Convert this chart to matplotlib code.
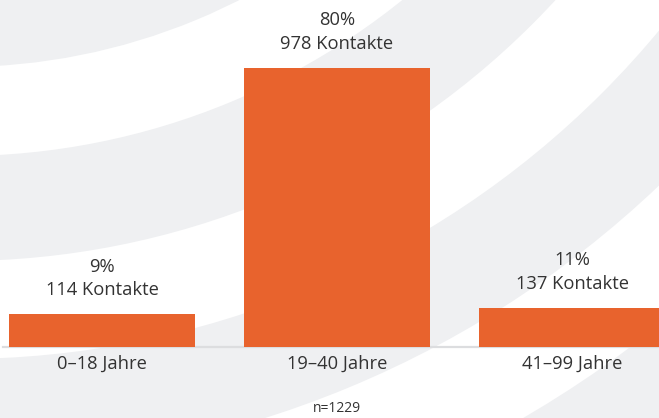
import matplotlib
matplotlib.use('Agg')
import matplotlib.pyplot as plt
from matplotlib.patches import Wedge

# ── Data ──────────────────────────────────────────────────────────────────────
categories = ["0–18 Jahre", "19–40 Jahre", "41–99 Jahre"]
contacts   = [114, 978, 137]
percents   = [9, 80, 11]
n_total    = 1229

# ── Style ─────────────────────────────────────────────────────────────────────
BAR   = "#E8632D"
BAND  = "#EFF0F2"
TEXT  = "#333333"
AXIS  = "#DCDDDF"
FONT  = "Open Sans"
FS    = 13.2

W, H = 659, 418
fig = plt.figure(figsize=(W / 100, H / 100), dpi=100)
fig.patch.set_facecolor("white")

# background arcs (pixel space)
bg = fig.add_axes([0, 0, 1, 1])
bg.set_xlim(0, W)
bg.set_ylim(H, 0)
bg.axis("off")
center = (-40, -549)
for r_in, r_out in [(480, 616), (705, 810), (908, 1014), (1119, 1300)]:
    bg.add_patch(Wedge(center, r_out, 0, 360, width=r_out - r_in,
                       facecolor=BAND, edgecolor="none"))

# bars
ax = fig.add_axes([0, 0, 1, 1])
ax.patch.set_alpha(0)
x = list(range(len(categories)))
ax.bar(x, contacts, width=0.79, color=BAR, zorder=2)
ax.axhline(0, xmin=3 / W, xmax=1, color=AXIS, linewidth=1.6, zorder=1)

ax.set_xlim(-102 / 235, (W - 102) / 235)
ax.set_ylim(-71 / 0.2853, 347 / 0.2853)
ax.axis("off")

for xi, c, p, cat in zip(x, contacts, percents, categories):
    ax.annotate(f"{c} Kontakte", (xi, c), xytext=(0, 17.5), textcoords="offset points",
                ha="center", va="center", fontsize=FS, color=TEXT, fontfamily=FONT)
    ax.annotate(f"{p}%", (xi, c), xytext=(0, 34.5), textcoords="offset points",
                ha="center", va="center", fontsize=FS, color=TEXT, fontfamily=FONT)
    ax.annotate(cat, (xi, 0), xytext=(0, -12), textcoords="offset points",
                ha="center", va="center", fontsize=FS, color=TEXT, fontfamily=FONT)

fig.text(337 / W, 1 - 409 / H, f"n={n_total}", ha="center", va="center",
         fontsize=10, color=TEXT, fontfamily=FONT)

plt.savefig("out.png", dpi=100, facecolor="white")
plt.close()
